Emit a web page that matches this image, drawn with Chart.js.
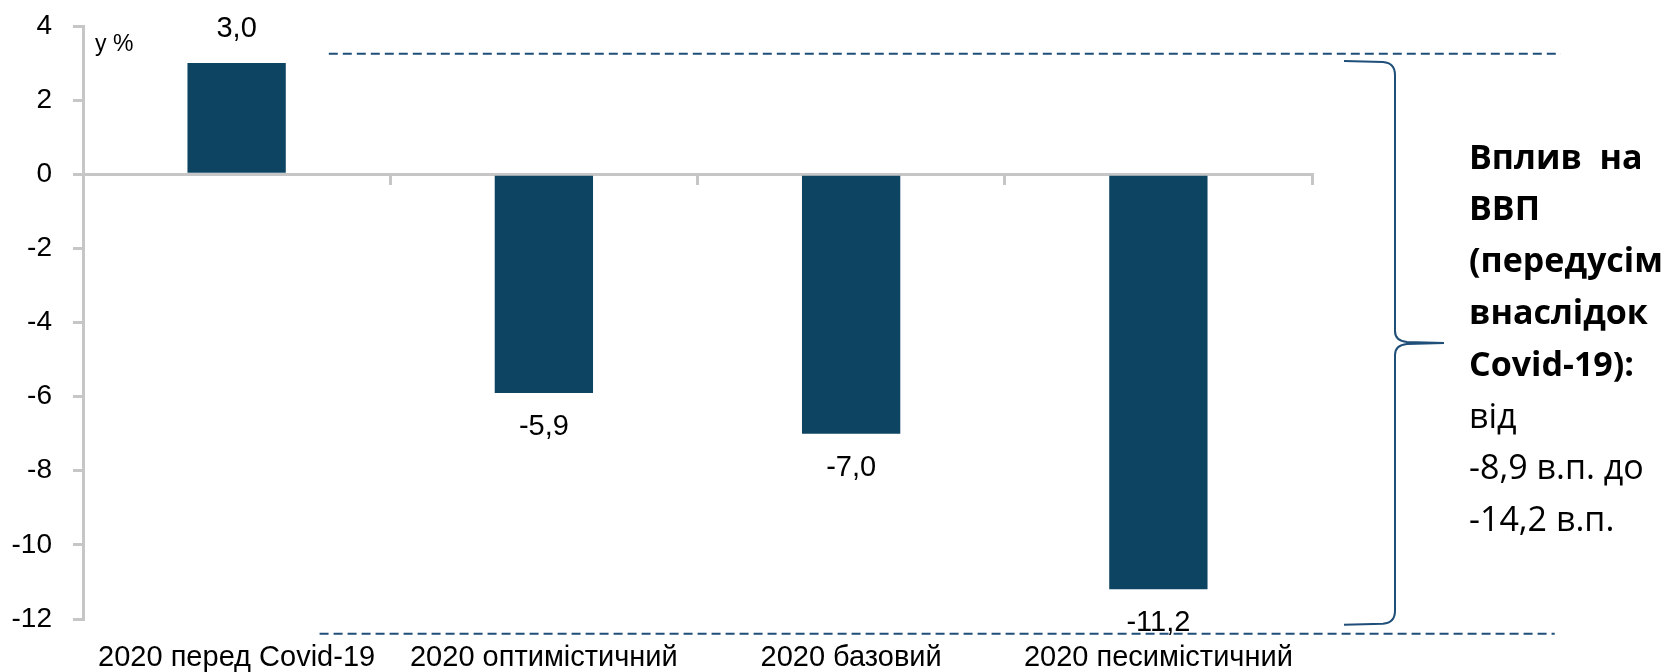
<!DOCTYPE html>
<html>
<head>
<meta charset="utf-8">
<style>
  body { margin: 0; background: #fff; }
</style>
</head>
<body>
<canvas id="gdpChart" width="1679" height="672"></canvas>

<script src="https://cdn.jsdelivr.net/npm/chart.js"></script>
<script>
// дані
const categories = ["2020 перед Covid-19", "2020 оптимістичний", "2020 базовий", "2020 песимістичний"];
const gdpGrowth = [3.0, -5.9, -7.0, -11.2];
const yMin = -12;
const yMax = 4;
const yStep = 2;
const unitLabel = "у %";
const noteBold = ["Вплив  на", "ВВП", "(передусім", "внаслідок", "Covid-19):"];
const noteRegular = ["від", "-8,9 в.п. до", "-14,2 в.п."];

const barColor = "#0d4462";
const axisGray = "#c6c6c6";
const darkBlue = "#1f4e79";
const chartFont = '"Liberation Sans", Arial, sans-serif';

const fmt = v => v.toFixed(1).replace(".", ",");

// підписи, пунктир, фігурна дужка і текст праворуч
const annotations = {
    id: "annotations",
    afterDatasetsDraw(chart) {
        const ctx = chart.ctx;
        const x = chart.scales.x;
        const y = chart.scales.y;
        const area = chart.chartArea;
        ctx.save();

        // значення над/під стовпцями
        ctx.font = "29px " + chartFont;
        ctx.fillStyle = "#000";
        ctx.textAlign = "center";
        ctx.textBaseline = "middle";
        chart.getDatasetMeta(0).data.forEach((bar, i) => {
            const v = gdpGrowth[i];
            const ty = v >= 0 ? bar.y - 34 : bar.y + 34;
            ctx.fillText(fmt(v), bar.x, ty);
        });

        // у %
        ctx.font = "23px " + chartFont;
        ctx.textAlign = "left";
        ctx.fillText(unitLabel, area.left + 12, y.getPixelForValue(3.5));

        // пунктирні лінії
        ctx.strokeStyle = darkBlue;
        ctx.lineWidth = 2;
        ctx.setLineDash([9, 5]);
        let yTop = y.getPixelForValue(3.25);
        let yBot = y.getPixelForValue(-12.4);
        ctx.beginPath();
        ctx.moveTo(x.getPixelForValue(0.3), yTop);
        ctx.lineTo(x.getPixelForValue(4.31), yTop);
        ctx.moveTo(x.getPixelForValue(0.27), yBot);
        ctx.lineTo(x.getPixelForValue(4.29), yBot);
        ctx.stroke();
        ctx.setLineDash([]);

        // дужка
        const bx = area.right + 83;
        const tipX = area.right + 132;
        const hookX = area.right + 32;
        const t = y.getPixelForValue(3);
        const b = y.getPixelForValue(-12.1);
        const m = (t + b) / 2;
        ctx.lineWidth = 2;
        ctx.beginPath();
        ctx.moveTo(hookX, t - 2);
        ctx.lineTo(bx - 12, t - 1);
        ctx.quadraticCurveTo(bx, t, bx, t + 12);
        ctx.lineTo(bx, m - 12);
        ctx.quadraticCurveTo(bx, m - 2, bx + 12, m - 1);
        ctx.lineTo(tipX, m);
        ctx.lineTo(bx + 12, m + 1);
        ctx.quadraticCurveTo(bx, m + 2, bx, m + 12);
        ctx.lineTo(bx, b - 12);
        ctx.quadraticCurveTo(bx, b, bx - 12, b + 1);
        ctx.lineTo(hookX, b + 2);
        ctx.stroke();

        // текст праворуч
        const tx = area.right + 157;
        let ly = 159;
        ctx.fillStyle = "#000";
        ctx.textAlign = "left";
        ctx.textBaseline = "middle";
        ctx.font = "bold 34px 'Open Sans', sans-serif";
        noteBold.forEach(s => { ctx.fillText(s, tx, ly); ly += 51.8; });
        ctx.font = "34px 'Open Sans', sans-serif";
        noteRegular.forEach(s => { ctx.fillText(s, tx, ly); ly += 51.8; });

        ctx.restore();
    }
};

new Chart(document.getElementById("gdpChart"), {
    type: "bar",
    data: {
        labels: categories,
        datasets: [{
            data: gdpGrowth,
            backgroundColor: barColor,
            categoryPercentage: 1,
            barPercentage: 0.32
        }]
    },
    options: {
        responsive: false,
        animation: false,
        events: [],
        layout: { padding: { top: 26, right: 367, left: 0, bottom: 0 } },
        plugins: {
            legend: { display: false },
            tooltip: { enabled: false }
        },
        scales: {
            x: {
                grid: { display: false, drawTicks: false },
                border: { display: false },
                ticks: {
                    color: "#000",
                    font: { family: chartFont, size: 29 },
                    padding: 22,
                    maxRotation: 0,
                    autoSkip: false
                },
                afterFit: s => { s.height = 53; }
            },
            // лінія нуля з поділками
            zero: {
                type: "category",
                axis: "x",
                labels: categories,
                position: { y: 0 },
                ticks: { display: false },
                grid: {
                    offset: true,
                    drawOnChartArea: false,
                    tickLength: 9,
                    color: axisGray,
                    lineWidth: 3
                },
                border: { color: axisGray, width: 3 }
            },
            y: {
                min: yMin,
                max: yMax,
                ticks: {
                    stepSize: yStep,
                    color: "#000",
                    font: { family: chartFont, size: 28 },
                    padding: 21
                },
                grid: {
                    drawOnChartArea: false,
                    tickLength: 10,
                    color: axisGray,
                    lineWidth: 3
                },
                border: { color: axisGray, width: 3 },
                afterFit: s => {
                    s.width = 83;
                    s.paddingTop = 14;
                    s.paddingBottom = 14;
                }
            }
        }
    },
    plugins: [annotations]
});
</script>
</body>
</html>
